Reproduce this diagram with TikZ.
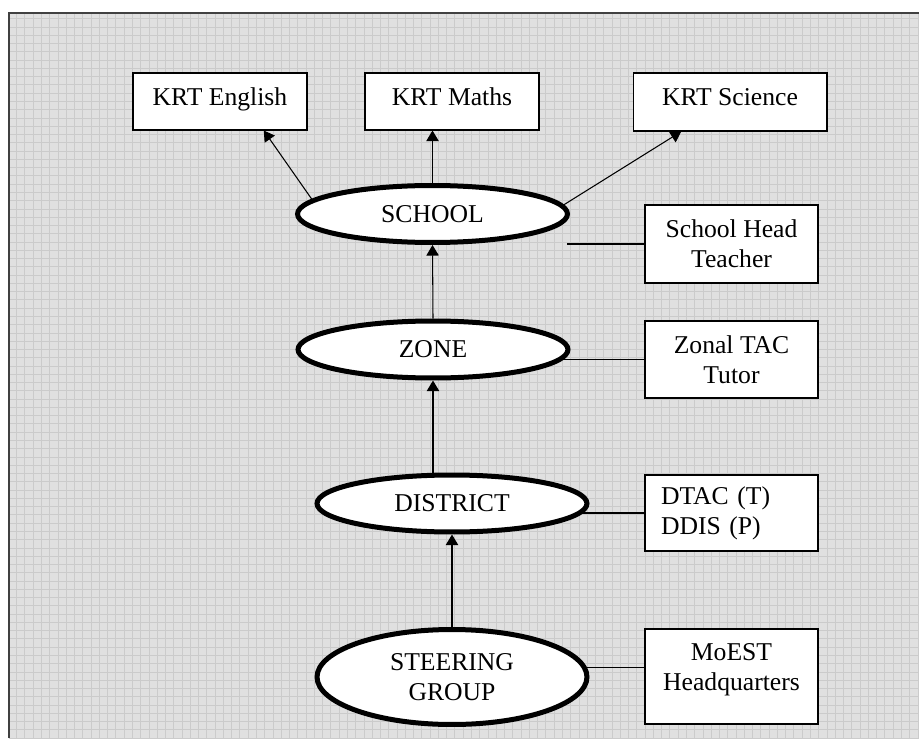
\documentclass[tikz,border=0pt]{standalone}
\usepackage{fontspec}
\setmainfont{Liberation Serif}
\usetikzlibrary{shapes.geometric,arrows.meta,calc,backgrounds}
\definecolor{paper}{RGB}{224,224,224}
\definecolor{gridline}{RGB}{203,203,203}
\definecolor{frameline}{RGB}{64,64,64}
\begin{document}
\begin{tikzpicture}[x=0.02cm,y=0.02cm,font=\fontsize{14.6}{17.1}\selectfont,
        tier/.style={ellipse,draw,fill=white,line width=0.1cm,minimum width=5.4cm,minimum height=1.14cm,inner sep=0pt,align=center},
        duty/.style={rectangle,draw,fill=white,line width=0.6pt,minimum width=3.48cm,align=center},
        oneline/.style={text height=0.7em,text depth=0.25em},
        feeds/.style={line width=0.6pt,-{Triangle[length=6pt,width=7pt]}},
        tie/.style={line width=0.6pt}]
                \useasboundingbox (0,0) rectangle (919,738);
                % the four levels
                \node[tier,text height=0.95em] (school) at (432.5,524) {SCHOOL};
                \node[tier,text height=0.95em] (zone) at (433,388.5) {ZONE};
                \node[tier,text height=0.95em] (district) at (452,234.5) {DISTRICT};
                \node[tier,minimum height=1.9cm] (steering) at (452,61) {STEERING\\GROUP};
                % subjects
                \node[duty,oneline,minimum height=1.14cm] (english) at (220,636.5) {KRT English};
                \node[duty,oneline,minimum height=1.14cm] (maths) at (452,636.5) {KRT Maths};
                \node[duty,oneline,minimum width=3.88cm,minimum height=1.16cm] (science) at (730,636) {KRT Science};
                % who is in charge
                \node[duty,minimum width=3.46cm,minimum height=1.56cm] (head) at (731.5,494) {School Head\\Teacher};
                \node[duty,minimum width=3.46cm,minimum height=1.54cm] (zonal) at (731.5,378.5) {Zonal TAC\\Tutor};
                \node[duty,minimum width=3.46cm,minimum height=1.52cm,align=left,text width=2.82cm,inner xsep=0.32cm] (dtac) at (731.5,225) {DTAC (T)\\DDIS (P)};
                \node[duty,minimum width=3.46cm,minimum height=1.9cm,text depth=0.38cm] (moest) at (731.5,61.5) {MoEST\\Headquarters};
                \begin{scope}[on background layer]
                    \fill[paper] (9,0) rectangle (919,725);
                    \draw[gridline,line width=0.35pt,step=0.1654cm] (9,0) grid (919,725);
                    \draw[frameline,line width=0.8pt] (9,0) -- (9,725) -- (919,725);
                    \coordinate (headend) at (567,494);
                    \draw[tie] (headend) -- (head.west);
                    \draw[tie] (zonal.west) -- (zonal.west -| zone.center);
                    \draw[tie] (dtac.west) -- (dtac.west -| district.center);
                    \coordinate (moestln) at ([yshift=0.18cm]moest.west);
                    \draw[tie] (moestln) -- (moestln -| steering.center);
                \end{scope}
                \draw[feeds] (school.173) -- ($(english.south)!0.5!(english.south east)$);
                \draw[feeds] (school.north) -- (school.north |- maths.south);
                \draw[feeds] (school.4) -- ($(science.south west)!0.5!(science.south)$);
                \draw[feeds] (zone.north) -- (school.south);
                \draw[feeds] (district.north -| zone.south) -- (zone.south);
                \draw[feeds] (steering.north) -- (district.south);
\end{tikzpicture}
\end{document}
